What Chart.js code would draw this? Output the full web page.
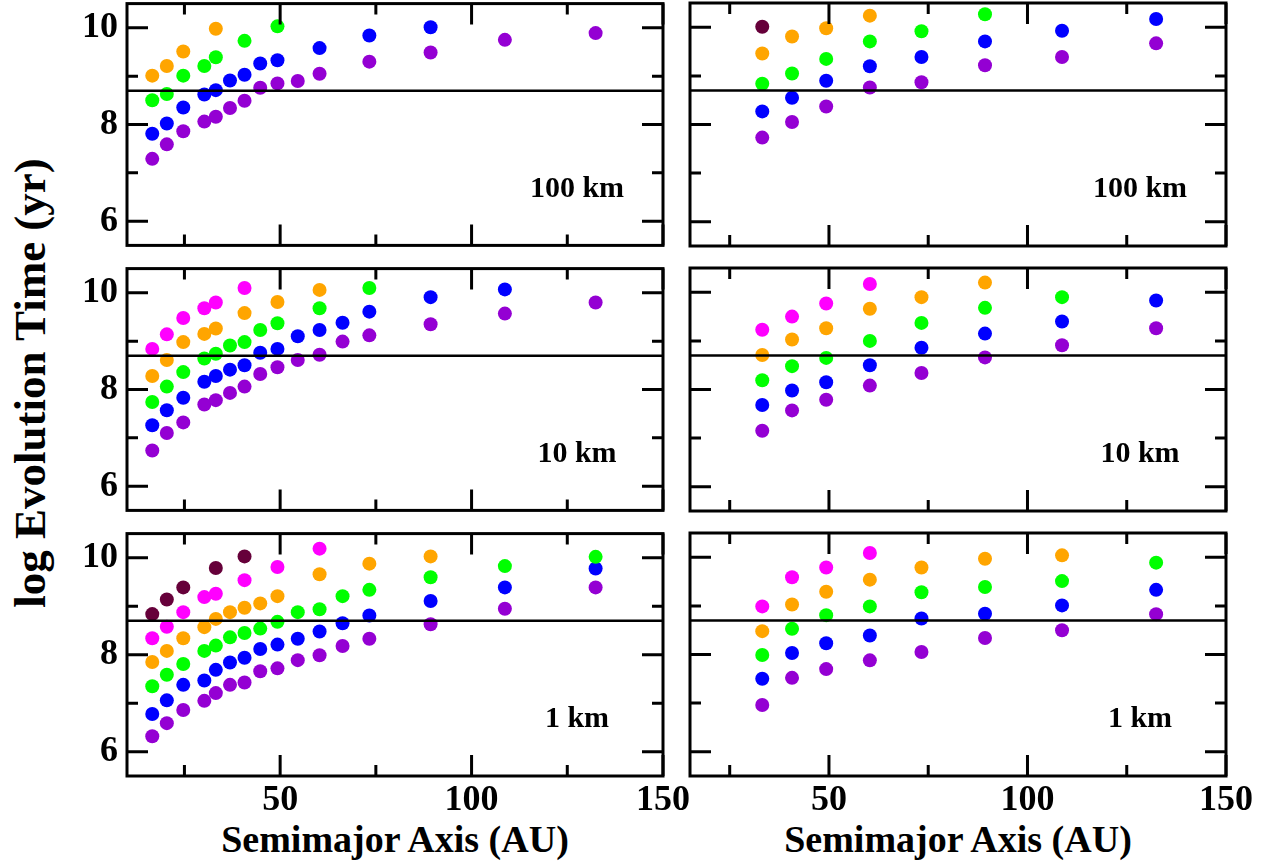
<!DOCTYPE html>
<html>
<head>
<meta charset="utf-8">
<title>log Evolution Time vs Semimajor Axis</title>
<script src="https://cdn.jsdelivr.net/npm/chart.js@4.4.1/dist/chart.umd.min.js"></script>
<style>
  html, body { margin: 0; padding: 0; background: #fff; }
  #page { position: relative; width: 1273px; height: 863px; overflow: hidden; background: #fff; }
  #page canvas { position: absolute; }
  .title { position: absolute; font: bold 38px 'Liberation Serif', 'DejaVu Serif', serif; color: #000; white-space: nowrap; line-height: 1; }
  .xtitle { top: 820px; transform: translateX(-50%); }
  #ytitle { left: 30px; top: 383px; font-size: 45px; transform: translate(-50%, -50%) rotate(-90deg); }
</style>
</head>
<body>
<div id="page">
  <div class="title" id="ytitle">log Evolution Time (yr)</div>
  <div class="title xtitle" style="left: 395px;">Semimajor Axis (AU)</div>
  <div class="title xtitle" style="left: 958px;">Semimajor Axis (AU)</div>
</div>
<script>
// Оси
const xMinLeft = 10;
const xMinRight = 15;
const xMax = 150;
const yMin = 5.5;
const yMax = 10.5;
const xTickValues = [25, 50, 75, 100, 125, 150];
const xLabelValues = [50, 100, 150];
const yTickValues = [6, 7, 8, 9, 10];
const yLabelValues = [6, 8, 10];
const limitLog = 8.7; // горизонтальная линия

// Большие полуоси (AU)
const aLeft = [16.6, 20.4, 24.7, 30.2, 33.2, 36.9, 40.7, 44.8, 49.3, 54.6, 60.3, 66.3, 73.3, 89.3, 108.7, 132.4];
const aRight = [33.2, 40.7, 49.3, 60.3, 73.3, 89.3, 108.7, 132.4];

const sizeLabels = ["100 km", "10 km", "1 km"];

// Цвета
const colMaroon = "#66003a";
const colMagenta = "#ff00ff";
const colOrange = "#ffa500";
const colGreen = "#00ff00";
const colBlue = "#0000ff";
const colPurple = "#9400d3";

// 100 km, левая колонка
const l100Orange = [9.01, 9.21, 9.51, null, 9.98, null, null, null, null, null, null, null, null, null, null, null];
const l100Green  = [8.50, 8.63, 9.01, 9.21, 9.39, null, 9.73, null, 10.03, null, null, null, null, null, null, null];
const l100Blue   = [7.81, 8.02, 8.35, 8.62, 8.71, 8.91, 9.03, 9.26, 9.33, null, 9.58, null, 9.84, 10.01, null, null];
const l100Purple = [7.29, 7.59, 7.86, 8.06, 8.16, 8.34, 8.49, 8.76, 8.85, 8.90, 9.05, null, 9.30, 9.49, 9.75, 9.89];

// 10 km, левая колонка
const l10Magenta = [8.84, 9.14, 9.48, 9.68, 9.80, null, 10.10, null, null, null, null, null, null, null, null, null];
const l10Orange  = [8.28, 8.61, 8.98, 9.15, 9.26, null, 9.58, null, 9.81, null, 10.06, null, null, null, null, null];
const l10Green   = [7.74, 8.06, 8.36, 8.64, 8.74, 8.91, 8.98, 9.23, 9.37, null, 9.68, null, 10.10, null, null, null];
const l10Blue    = [7.26, 7.57, 7.83, 8.16, 8.28, 8.41, 8.50, 8.76, 8.84, 9.10, 9.23, 9.38, 9.61, 9.91, 10.07, null];
const l10Purple  = [6.74, 7.10, 7.32, 7.69, 7.78, 7.93, 8.06, 8.32, 8.46, 8.61, 8.72, 8.99, 9.12, 9.35, 9.57, 9.80];

// 1 km, левая колонка
const l1Maroon  = [8.84, 9.14, 9.39, null, 9.79, null, 10.03, null, null, null, null, null, null, null, null, null];
const l1Magenta = [8.34, 8.58, 8.88, 9.19, 9.26, null, 9.54, null, 9.81, null, 10.19, null, null, null, null, null];
const l1Orange  = [7.85, 8.08, 8.34, 8.57, 8.74, 8.88, 8.97, 9.06, 9.21, null, 9.66, null, 9.88, 10.03, null, null];
const l1Green   = [7.35, 7.59, 7.81, 8.08, 8.19, 8.36, 8.45, 8.54, 8.68, 8.88, 8.94, 9.21, 9.34, 9.60, 9.83, 10.02];
const l1Blue    = [6.78, 7.06, 7.38, 7.47, 7.69, 7.84, 7.94, 8.12, 8.21, 8.33, 8.48, 8.65, 8.81, 9.11, 9.39, 9.78];
const l1Purple  = [6.32, 6.59, 6.86, 7.05, 7.21, 7.38, 7.43, 7.66, 7.72, 7.89, 7.99, 8.18, 8.33, 8.63, 8.95, 9.39];

// 100 km, правая колонка
const r100Maroon = [10.01, null, null, null, null, null, null, null];
const r100Orange = [9.46, 9.81, 9.98, 10.24, null, null, null, null];
const r100Green  = [8.84, 9.05, 9.35, 9.71, 9.92, 10.27, null, null];
const r100Blue   = [8.27, 8.55, 8.90, 9.20, 9.39, 9.71, 9.93, 10.17];
const r100Purple = [7.73, 8.05, 8.37, 8.76, 8.87, 9.22, 9.39, 9.67];

// 10 km, правая колонка
const r10Magenta = [9.23, 9.50, 9.77, 10.17, null, null, null, null];
const r10Orange  = [8.71, 9.03, 9.26, 9.66, 9.90, 10.20, null, null];
const r10Green   = [8.19, 8.48, 8.65, 9.00, 9.37, 9.68, 9.90, null];
const r10Blue    = [7.68, 7.98, 8.15, 8.50, 8.86, 9.15, 9.40, 9.83];
const r10Purple  = [7.15, 7.57, 7.79, 8.08, 8.34, 8.66, 8.91, 9.26];

// 1 km, правая колонка
const r1Magenta = [8.99, 9.59, 9.79, 10.09, null, null, null, null];
const r1Orange  = [8.48, 9.03, 9.29, 9.54, 9.79, 9.97, 10.04, null];
const r1Green   = [7.99, 8.53, 8.81, 8.99, 9.28, 9.39, 9.51, 9.89];
const r1Blue    = [7.50, 8.03, 8.23, 8.39, 8.74, 8.84, 9.01, 9.33];
const r1Purple  = [6.96, 7.52, 7.70, 7.88, 8.05, 8.34, 8.50, 8.83];

// Геометрия панелей (пиксели области графика)
const colLeftPx = [127, 690];
const colRightPx = [663, 1226];
const rowTopPx = [3, 268, 533];
const rowBottomPx = [246, 511, 776];

const fontFamily = "'Liberation Serif', 'DejaVu Serif', serif";

const panels = [
  { row: 0, col: 0, series: [[l100Orange, colOrange], [l100Green, colGreen], [l100Blue, colBlue], [l100Purple, colPurple]] },
  { row: 0, col: 1, series: [[r100Maroon, colMaroon], [r100Orange, colOrange], [r100Green, colGreen], [r100Blue, colBlue], [r100Purple, colPurple]] },
  { row: 1, col: 0, series: [[l10Magenta, colMagenta], [l10Orange, colOrange], [l10Green, colGreen], [l10Blue, colBlue], [l10Purple, colPurple]] },
  { row: 1, col: 1, series: [[r10Magenta, colMagenta], [r10Orange, colOrange], [r10Green, colGreen], [r10Blue, colBlue], [r10Purple, colPurple]] },
  { row: 2, col: 0, series: [[l1Maroon, colMaroon], [l1Magenta, colMagenta], [l1Orange, colOrange], [l1Green, colGreen], [l1Blue, colBlue], [l1Purple, colPurple]] },
  { row: 2, col: 1, series: [[r1Magenta, colMagenta], [r1Orange, colOrange], [r1Green, colGreen], [r1Blue, colBlue], [r1Purple, colPurple]] },
];

const toPoints = (xs, ys) => {
  const pts = [];
  ys.forEach((y, i) => { if (y !== null) pts.push({ x: xs[i], y: y }); });
  return pts;
};

// Рамка, внутренние засечки и подпись размера
const framePlugin = {
  id: "frame",
  afterDraw(chart, args, opts) {
    const { ctx, chartArea: a, scales } = chart;
    ctx.save();
    ctx.strokeStyle = "#000";
    ctx.lineWidth = 3;
    ctx.lineCap = "butt";
    ctx.beginPath();
    scales.x.ticks.forEach((t) => {
      const px = scales.x.getPixelForValue(t.value);
      const len = xLabelValues.includes(t.value) ? 21 : 11;
      ctx.moveTo(px, a.top); ctx.lineTo(px, a.top + len);
      ctx.moveTo(px, a.bottom); ctx.lineTo(px, a.bottom - len);
    });
    scales.y.ticks.forEach((t) => {
      const py = scales.y.getPixelForValue(t.value);
      const len = yLabelValues.includes(t.value) ? 21 : 11;
      ctx.moveTo(a.left, py); ctx.lineTo(a.left + len, py);
      ctx.moveTo(a.right, py); ctx.lineTo(a.right - len, py);
    });
    ctx.stroke();
    ctx.lineJoin = "miter";
    ctx.strokeRect(a.left, a.top, a.right - a.left, a.bottom - a.top);

    ctx.fillStyle = "#000";
    ctx.font = "bold 30px " + fontFamily;
    ctx.textAlign = "center";
    ctx.textBaseline = "middle";
    ctx.fillText(opts.label, a.right - 86, a.top + 186);
    ctx.restore();
  },
};

const page = document.getElementById("page");

panels.forEach((p) => {
  const left = colLeftPx[p.col], right = colRightPx[p.col];
  const top = rowTopPx[p.row], bottom = rowBottomPx[p.row];
  const padL = p.col === 0 ? 127 : 30;
  const padT = 30, padR = 40;
  const padB = p.row === 2 ? 80 : 30;
  const xs = p.col === 0 ? aLeft : aRight;
  const xMin = p.col === 0 ? xMinLeft : xMinRight;

  const canvas = document.createElement("canvas");
  canvas.width = right - left + padL + padR;
  canvas.height = bottom - top + padT + padB;
  canvas.style.left = (left - padL) + "px";
  canvas.style.top = (top - padT) + "px";
  page.appendChild(canvas);

  const datasets = [
    {
      type: "line",
      data: [{ x: xMin, y: limitLog }, { x: xMax, y: limitLog }],
      borderColor: "#000",
      borderWidth: 2.5,
      pointRadius: 0,
      fill: false,
    },
  ];
  p.series.forEach(([ys, color]) => {
    datasets.push({
      type: "scatter",
      data: toPoints(xs, ys),
      backgroundColor: color,
      borderWidth: 0,
      pointRadius: 7,
      pointHoverRadius: 7,
    });
  });

  new Chart(canvas.getContext("2d"), {
    type: "scatter",
    data: { datasets: datasets },
    options: {
      responsive: false,
      animation: false,
      devicePixelRatio: 1,
      events: [],
      layout: { autoPadding: false, padding: { left: 0, top: padT, right: padR, bottom: 0 } },
      scales: {
        x: {
          type: "linear",
          min: xMin,
          max: xMax,
          grid: { display: false, drawTicks: false },
          border: { display: false },
          afterBuildTicks: (scale) => { scale.ticks = xTickValues.map((v) => ({ value: v })); },
          ticks: {
            display: p.row === 2,
            autoSkip: false,
            maxRotation: 0,
            padding: 3,
            color: "#000",
            font: { family: fontFamily, size: 36, weight: "bold" },
            callback: (v) => (xLabelValues.includes(v) ? String(v) : ""),
          },
          afterFit: (scale) => { scale.height = padB; },
        },
        y: {
          type: "linear",
          position: "left",
          min: yMin,
          max: yMax,
          grid: { display: false, drawTicks: false },
          border: { display: false },
          afterBuildTicks: (scale) => { scale.ticks = yTickValues.map((v) => ({ value: v })); },
          ticks: {
            display: p.col === 0,
            autoSkip: false,
            padding: 9,
            color: "#000",
            font: { family: fontFamily, size: 36, weight: "bold" },
            callback: (v) => (yLabelValues.includes(v) ? String(v) : ""),
          },
          afterFit: (scale) => { scale.width = padL; },
        },
      },
      plugins: {
        legend: { display: false },
        tooltip: { enabled: false },
        frame: { label: sizeLabels[p.row] },
      },
    },
    plugins: [framePlugin],
  });
});
</script>
</body>
</html>
